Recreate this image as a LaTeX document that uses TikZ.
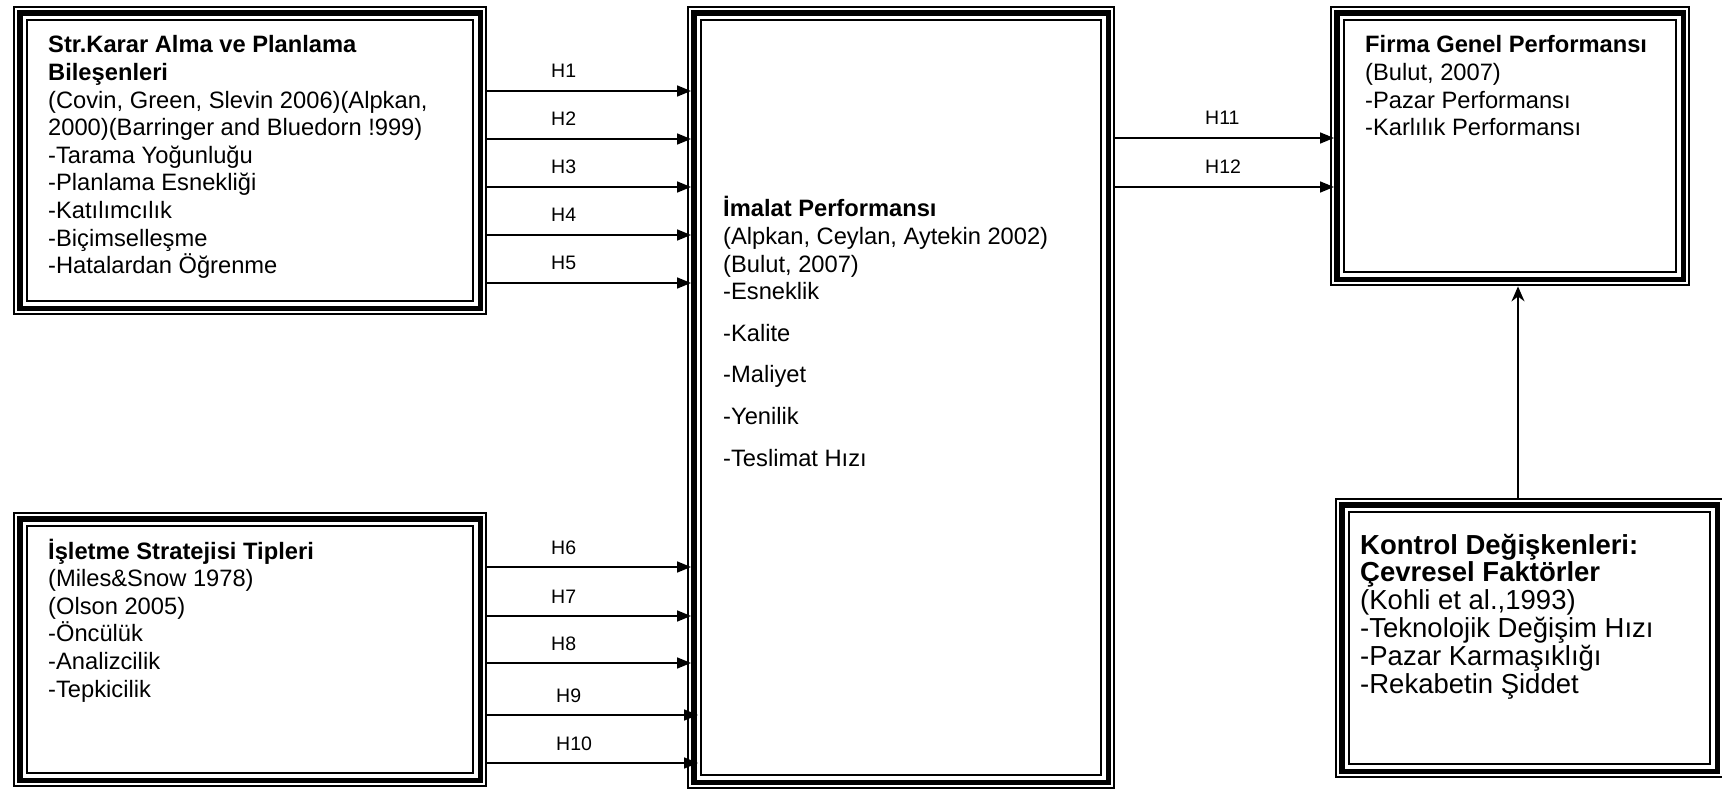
\documentclass[tikz,border=0pt]{standalone}
\usepackage{fontspec}
\setmainfont{Liberation Sans}
\usetikzlibrary{arrows.meta}
\newcommand\mylines[1]{\vtop{\lineskiplimit=-99pt\relax\halign{##\hfil\cr#1\crcr}}}
\newcommand\triborder[1]{%
 \draw[line width=2pt] ([shift={(1.2,1.2)}]#1.north west) rectangle ([shift={(-1.2,-1.2)}]#1.south east);
 \draw[line width=5.2pt] ([shift={(7,7)}]#1.north west) rectangle ([shift={(-7,-7)}]#1.south east);
 \draw[line width=1.8pt] ([shift={(14.3,14.3)}]#1.north west) rectangle ([shift={(-14.3,-14.3)}]#1.south east);}
\tikzset{
 tribox/.style={rectangle, draw=none, inner sep=0pt, anchor=north west},
 txt/.style={anchor=base west, inner sep=0pt, font=\fontsize{23.7}{27.6}\selectfont},
 bigtxt/.style={anchor=base west, inner sep=0pt, font=\fontsize{27.5}{27.8}\selectfont},
 lbl/.style={anchor=base west, inner sep=0pt, font=\fontsize{19.5}{22}\selectfont},
 arr/.style={line width=1.6pt, -{Triangle[length=14pt,width=11pt]}},
 uparr/.style={line width=1.6pt, -{Stealth[length=15pt,width=13pt]}},
}
\begin{document}
\begin{tikzpicture}[x=1pt,y=-1pt]
\useasboundingbox (0,0) rectangle (1722,791);
\fill[white] (0,0) rectangle (1722,791);
\clip (0,0) rectangle (1722,791);
% boxes
\node[tribox, minimum width=474pt, minimum height=309pt] (A) at (13,6) {};
\node[tribox, minimum width=474pt, minimum height=275pt] (B) at (13,512) {};
\node[tribox, minimum width=428pt, minimum height=783pt] (C) at (687,6) {};
\node[tribox, minimum width=360pt, minimum height=280pt] (D) at (1330,6) {};
\node[tribox, minimum width=389pt, minimum height=280pt] (E) at (1335,498) {};
\triborder{A}
\triborder{B}
\triborder{C}
\triborder{D}
\triborder{E}
% texts
\node[txt] (At) at (48,53) {\mylines{\textbf{Str.Karar Alma ve Planlama}\cr
\textbf{Bileşenleri}\cr
(Covin, Green, Slevin 2006)(Alpkan,\cr
2000)(Barringer and Bluedorn !999)\cr
-Tarama Yoğunluğu\cr
-Planlama Esnekliği\cr
-Katılımcılık\cr
-Biçimselleşme\cr
-Hatalardan Öğrenme}};
\node[txt] (Bt) at (48,559) {\mylines{\textbf{İşletme Stratejisi Tipleri}\cr
(Miles\&Snow 1978)\cr
(Olson 2005)\cr
-Öncülük\cr
-Analizcilik\cr
-Tepkicilik}};
\node[txt] (Ct) at (723,217) {\mylines{\textbf{İmalat Performansı}\cr
(Alpkan, Ceylan, Aytekin 2002)\cr
(Bulut, 2007)\cr
-Esneklik\cr\noalign{\vskip14pt}
-Kalite\cr\noalign{\vskip14pt}
-Maliyet\cr\noalign{\vskip14pt}
-Yenilik\cr\noalign{\vskip14pt}
-Teslimat Hızı}};
\node[txt] (Dt) at (1365,53) {\mylines{\textbf{Firma Genel Performansı}\cr
(Bulut, 2007)\cr
-Pazar Performansı\cr
-Karlılık Performansı}};
\node[bigtxt] (Et) at (1360,554) {\mylines{\textbf{Kontrol Değişkenleri:}\cr
\textbf{Çevresel Faktörler}\cr
(Kohli et al.,1993)\cr
-Teknolojik Değişim Hızı\cr
-Pazar Karmaşıklığı\cr
-Rekabetin Şiddet}};
% arrow end points
\coordinate (Cin) at ([xshift=4pt]C.west);
\coordinate (Cin2) at ([xshift=11pt]C.west);
\coordinate (Din) at ([xshift=4pt]D.west);
% H1-H5
\draw[arr] (A.east |- 0,91) -- (Cin |- 0,91);
\draw[arr] (A.east |- 0,139) -- (Cin |- 0,139);
\draw[arr] (A.east |- 0,187) -- (Cin |- 0,187);
\draw[arr] (A.east |- 0,235) -- (Cin |- 0,235);
\draw[arr] (A.east |- 0,283) -- (Cin |- 0,283);
\node[lbl] (h1) at (551,78) {H1};
\node[lbl] (h2) at (551,126) {H2};
\node[lbl] (h3) at (551,174) {H3};
\node[lbl] (h4) at (551,222) {H4};
\node[lbl] (h5) at (551,270) {H5};
% H6-H10
\draw[arr] (B.east |- 0,567) -- (Cin |- 0,567);
\draw[arr] (B.east |- 0,616) -- (Cin |- 0,616);
\draw[arr] (B.east |- 0,663) -- (Cin |- 0,663);
\draw[arr] (B.east |- 0,715) -- (Cin2 |- 0,715);
\draw[arr] (B.east |- 0,763) -- (Cin2 |- 0,763);
\node[lbl] (h6) at (551,554) {H6};
\node[lbl] (h7) at (551,603) {H7};
\node[lbl] (h8) at (551,650) {H8};
\node[lbl] (h9) at (556,702) {H9};
\node[lbl] (h10) at (556,750) {H10};
% H11-H12
\draw[arr] (C.east |- 0,138) -- (Din |- 0,138);
\draw[arr] (C.east |- 0,187) -- (Din |- 0,187);
\node[lbl] (h11) at (1205,125) {H11};
\node[lbl] (h12) at (1205,174) {H12};
% control arrow
\draw[uparr] (E.north -| 1518,0) -- (D.south -| 1518,0);
\end{tikzpicture}
\end{document}
